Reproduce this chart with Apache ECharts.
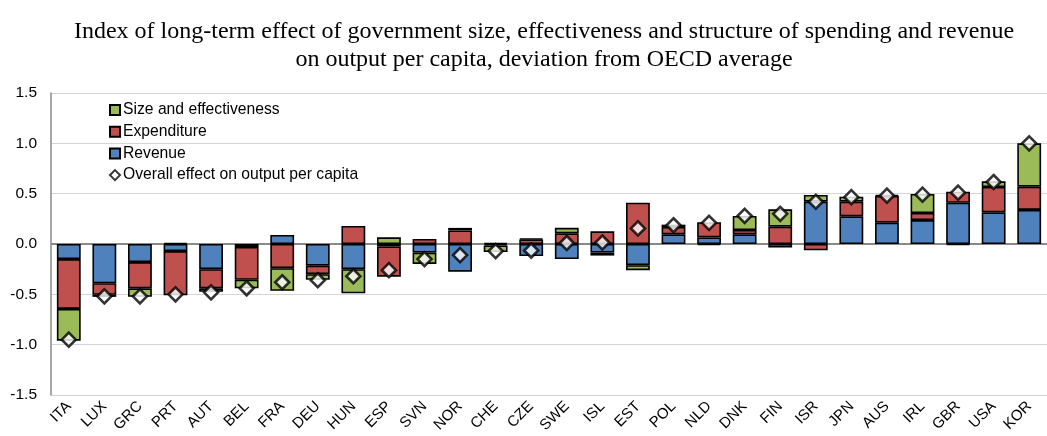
<!DOCTYPE html>
<html>
<head>
<meta charset="utf-8">
<script src="https://cdn.jsdelivr.net/npm/echarts@6/dist/echarts.min.js"></script>
<style>html,body{margin:0;padding:0;background:#fff}#c{width:1047px;height:436px}</style>
</head>
<body>
<div id="c"></div>
<script>
var categories = ['ITA','LUX','GRC','PRT','AUT','BEL','FRA','DEU','HUN','ESP','SVN','NOR','CHE','CZE','SWE','ISL','EST','POL','NLD','DNK','FIN','ISR','JPN','AUS','IRL','GBR','USA','KOR'];
var revenue = [-0.15,-0.39,-0.18,-0.07,-0.25,-0.03,0.09,-0.215,-0.25,-0.025,-0.085,-0.275,0.01,-0.12,-0.15,-0.085,-0.21,0.096,0.065,0.096,-0.036,0.42,0.275,0.212,0.238,0.41,0.315,0.338];
var expenditure = [-0.495,-0.115,-0.26,-0.44,-0.19,-0.325,-0.24,-0.085,0.18,-0.30,0.05,0.135,-0.015,0.045,0.106,0.126,0.41,0.073,0.152,0.043,0.172,-0.063,0.145,0.265,0.07,0.11,0.251,0.231];
var sizeEff = [-0.315,-0.02,-0.085,0.01,-0.035,-0.085,-0.225,-0.055,-0.24,0.066,-0.113,0.025,-0.065,0.01,0.055,-0.03,-0.05,0.023,-0.01,0.139,0.172,0.067,0.05,0.01,0.189,-0.01,0.057,0.431];
var overall = [-0.95,-0.52,-0.52,-0.50,-0.48,-0.44,-0.38,-0.36,-0.32,-0.26,-0.15,-0.11,-0.07,-0.065,0.01,0.015,0.155,0.186,0.21,0.28,0.30,0.42,0.465,0.48,0.49,0.51,0.616,1.0];
var yTicks = { min: -1.5, max: 1.5, interval: 0.5 };

var names = {
  size: 'Size and effectiveness',
  exp: 'Expenditure',
  rev: 'Revenue',
  all: 'Overall effect on output per capita'
};

var chart = echarts.init(document.getElementById('c'), null, { renderer: 'canvas' });
var barBorder = { borderColor: '#000', borderWidth: 1.6 };
chart.setOption({
  animation: false,
  backgroundColor: '#fff',
  title: {
    text: 'Index of long-term effect of government size, effectiveness and structure of spending and revenue\non output per capita, deviation from OECD average',
    left: 539,
    top: 13,
    textAlign: 'center',
    textStyle: { fontFamily: 'Liberation Serif', fontSize: 24, fontWeight: 'normal', color: '#000', lineHeight: 28 }
  },
  legend: {
    orient: 'vertical',
    left: 104,
    top: 96,
    itemWidth: 10,
    itemHeight: 10,
    itemGap: 3.7,
    data: [
      { name: names.size, icon: 'rect' },
      { name: names.exp, icon: 'rect' },
      { name: names.rev, icon: 'rect' },
      { name: names.all }
    ],
    textStyle: { fontFamily: 'Liberation Sans', fontSize: 15.7, color: '#000', lineHeight: 18, padding: [0, 0, 0, -2] }
  },
  grid: { left: 51, top: 93, bottom: 41, right: -10 },
  xAxis: {
    type: 'category',
    data: categories,
    axisLine: { onZero: false, show: false },
    axisTick: { show: false },
    axisLabel: {
      rotate: 45, margin: 9, interval: 0,
      fontFamily: 'Liberation Sans', fontSize: 15, color: '#000'
    }
  },
  yAxis: {
    type: 'value',
    min: yTicks.min, max: yTicks.max, interval: yTicks.interval,
    axisLine: { show: true, lineStyle: { color: '#898989', width: 1.5 } },
    axisTick: { show: false },
    axisLabel: {
      margin: 14,
      fontFamily: 'Liberation Sans', fontSize: 15.5, color: '#000',
      formatter: function (v) { return v.toFixed(1); }
    },
    splitLine: { show: true, lineStyle: { color: '#d4d4d4', width: 1.2 } }
  },
  series: [
    {
      name: names.rev, type: 'bar', stack: 'tot', data: revenue,
      barCategoryGap: '33%',
      itemStyle: Object.assign({ color: '#4F81BD' }, barBorder),
      markLine: {
        silent: true, symbol: 'none', label: { show: false },
        lineStyle: { color: '#898989', width: 1.8, type: 'solid' },
        data: [{ yAxis: 0 }], z: 1
      }
    },
    {
      name: names.exp, type: 'bar', stack: 'tot', data: expenditure,
      itemStyle: Object.assign({ color: '#C0504D' }, barBorder)
    },
    {
      name: names.size, type: 'bar', stack: 'tot', data: sizeEff,
      itemStyle: Object.assign({ color: '#9BBB59' }, barBorder)
    },
    {
      name: names.all, type: 'scatter', data: overall,
      symbol: 'diamond', symbolSize: 14, z: 10,
      itemStyle: { color: '#fff', borderColor: '#000', borderWidth: 2.6 }
    }
  ]
});
</script>
</body>
</html>
